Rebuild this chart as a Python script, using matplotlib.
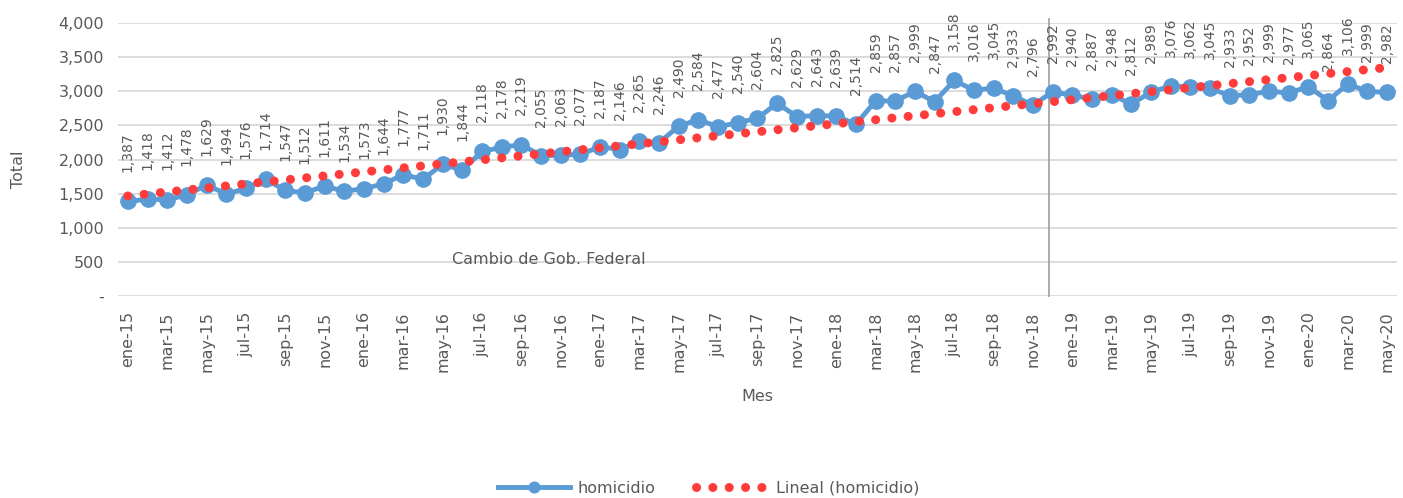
import matplotlib.pyplot as plt
import numpy as np

meses = ["ene", "feb", "mar", "abr", "may", "jun", "jul", "ago", "sep", "oct", "nov", "dic"]
etiquetas = []
for anio in range(15, 21):
    for m in meses:
        etiquetas.append(m + "-" + str(anio))
etiquetas = etiquetas[:65]

homicidio = [1387, 1418, 1412, 1478, 1629, 1494, 1576, 1714, 1547, 1512,
             1611, 1534, 1573, 1644, 1777, 1711, 1930, 1844, 2118, 2178,
             2219, 2055, 2063, 2077, 2187, 2146, 2265, 2246, 2490, 2584,
             2477, 2540, 2604, 2825, 2629, 2643, 2639, 2514, 2859, 2857,
             2999, 2847, 3158, 3016, 3045, 2933, 2796, 2992, 2940, 2887,
             2948, 2812, 2989, 3076, 3062, 3045, 2933, 2952, 2999, 2977,
             3065, 2864, 3106, 2999, 2982]

gris = "#595959"
azul = "#5B9BD5"
rojo = "#FF3B3B"

x = np.arange(len(homicidio))
coef = np.polyfit(x, homicidio, 1)
tendencia = np.polyval(coef, x)

fig = plt.figure(figsize=(14.03, 4.98), dpi=100)
ax = fig.add_axes([0.0841, 0.4056, 0.9116, 0.5482])

ax.plot(x, homicidio, color=azul, linewidth=3.5, marker="o", markersize=11,
        label="homicidio", zorder=3)
ax.plot(x, tendencia, color=rojo, linewidth=6.5, linestyle=(0, (0.01, 1.8)),
        dash_capstyle="round", label="Lineal (homicidio)", zorder=4)

for xi, v in zip(x, homicidio):
    ax.annotate(f"{v:,}", (xi, v), xytext=(0, 21), textcoords="offset points",
                rotation=90, ha="center", va="bottom", fontsize=10, color=gris)

# linea del cambio de gobierno
ax.axvline(46.8, ymin=0, ymax=1.015, color="#A6A6A6", linewidth=1.3, clip_on=False, zorder=2)
ax.text(21.4, 540, "Cambio de Gob. Federal", ha="center", va="center", fontsize=11.5, color=gris)

ax.set_xlim(-0.5, len(homicidio) - 0.5)
ax.set_ylim(0, 4000)
ax.set_yticks(np.arange(0, 4001, 500))
ax.set_yticklabels(["-"] + [f"{v:,}" for v in range(500, 4001, 500)])
ax.set_xticks(x[::2])
ax.set_xticklabels(etiquetas[::2], rotation=90)
ax.tick_params(axis="both", length=0, labelsize=11.5, labelcolor=gris)
ax.tick_params(axis="y", pad=10)
ax.tick_params(axis="x", pad=11)
ax.grid(axis="y", color="#D9D9D9", linewidth=1.3)
ax.set_axisbelow(True)
for s in ax.spines.values():
    s.set_visible(False)

fig.text(0.013, 0.66, "Total", rotation=90, ha="center", va="center", fontsize=11.5, color=gris)
fig.text(0.54, 0.203, "Mes", ha="center", va="center", fontsize=11.5, color=gris)

fig.legend(loc="center", bbox_to_anchor=(0.505, 0.02), ncol=2, frameon=False,
           fontsize=11.5, labelcolor=gris, handlelength=4.5, handletextpad=0.5,
           columnspacing=2.5, markerscale=0.7)

fig.savefig("out.png", dpi=100)
